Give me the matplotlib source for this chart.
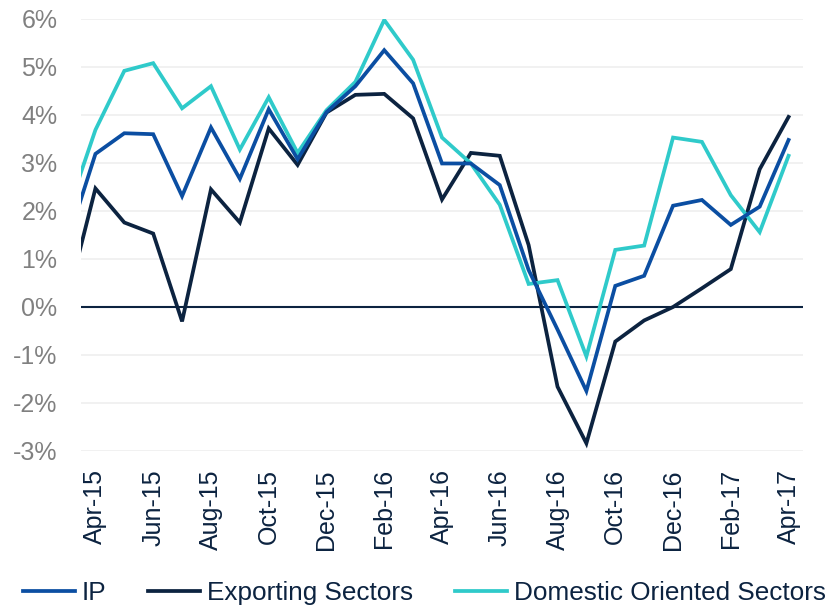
#!/usr/bin/env python3

import matplotlib
matplotlib.use('Agg')
import matplotlib.pyplot as plt
import numpy as np

plt.rcParams['font.family'] = ['Liberation Sans', 'DejaVu Sans']

# monthly data, Mar-15 .. Apr-17 (Mar-15 is clipped off the left edge)
months = ['Mar-15', 'Apr-15', 'May-15', 'Jun-15', 'Jul-15', 'Aug-15', 'Sep-15', 'Oct-15',
          'Nov-15', 'Dec-15', 'Jan-16', 'Feb-16', 'Mar-16', 'Apr-16', 'May-16', 'Jun-16',
          'Jul-16', 'Aug-16', 'Sep-16', 'Oct-16', 'Nov-16', 'Dec-16', 'Jan-17', 'Feb-17',
          'Mar-17', 'Apr-17']
ip = [1.31, 3.19, 3.62, 3.60, 2.31, 3.74, 2.67, 4.12, 3.08, 4.06, 4.60, 5.35, 4.66,
      2.99, 2.99, 2.54, 0.77, -0.47, -1.75, 0.44, 0.65, 2.11, 2.23, 1.71, 2.09, 3.48]
exporting = [0.09, 2.47, 1.76, 1.53, -0.30, 2.45, 1.76, 3.72, 2.96, 4.05, 4.42, 4.44, 3.93,
             2.24, 3.21, 3.15, 1.29, -1.66, -2.84, -0.72, -0.28, 0.0, 0.39, 0.79, 2.87, 3.96]
domestic = [1.92, 3.69, 4.92, 5.08, 4.14, 4.60, 3.28, 4.37, 3.21, 4.10, 4.69, 5.98, 5.15,
            3.53, 2.99, 2.13, 0.48, 0.56, -1.03, 1.19, 1.28, 3.53, 3.44, 2.33, 1.56, 3.15]

c_ip = '#0b4ea2'
c_exp = '#0c2340'
c_dom = '#2fcaca'

x = np.arange(len(months))

fig = plt.figure(figsize=(8.33, 6.08), dpi=100)
ax = fig.add_axes([81/833, 1-451/608, 722/833, 432/608])

for yv in range(-3, 7):
    if yv != 0:
        ax.axhline(yv, color='#efefef', lw=1.2, zorder=0)
ax.axhline(0, color=c_exp, lw=1.5, zorder=1)

ax.plot(x, ip, color=c_ip, lw=2.7, label='IP', solid_joinstyle='miter', zorder=3)
ax.plot(x, exporting, color=c_exp, lw=2.7, label='Exporting Sectors', solid_joinstyle='miter', zorder=2)
ax.plot(x, domestic, color=c_dom, lw=2.7, label='Domestic Oriented Sectors', solid_joinstyle='miter', zorder=2.5)

ax.set_xlim(0.5, len(months) - 0.5)
ax.set_ylim(-3, 6)
ax.set_yticks(range(-3, 7))
ax.set_yticklabels(['%d%%' % v for v in range(-3, 7)], fontsize=18, color='#808080')
ax.set_xticks(x[1::2])
ax.set_xticklabels(months[1::2], rotation=90, fontsize=18, color=c_exp)
ax.tick_params(length=0)
ax.tick_params(axis='y', pad=17)
ax.tick_params(axis='x', pad=13)
for s in ax.spines.values():
    s.set_visible(False)

fig.legend(loc='center left', bbox_to_anchor=(23/833, 1-593/608), ncol=3, frameon=False,
           fontsize=18.8, handlelength=2.0, handletextpad=0.25, columnspacing=1.6,
           borderpad=0, borderaxespad=0, labelcolor=c_exp)

plt.savefig('out.png', dpi=100)
